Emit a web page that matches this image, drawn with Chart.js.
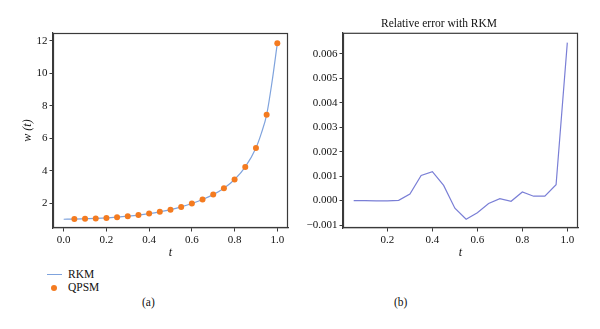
<!DOCTYPE html>
<html>
<head>
<meta charset="utf-8">
<script src="https://cdn.jsdelivr.net/npm/chart.js@4"></script>
<style>
    body { margin: 0; background: #fff; }
    #wrap { position: relative; width: 600px; height: 329px; font-family: "Liberation Serif", serif; color: #111; }
    canvas { position: absolute; top: 0; }
    #chartA { left: 0; }
    #chartB { left: 300px; }
    .leg { position: absolute; font-size: 11.5px; line-height: 12px; }
    .legLine { position: absolute; width: 15px; height: 0; border-top: 1.3px solid #7fa3dd; }
    .legDot { position: absolute; width: 6px; height: 6px; border-radius: 50%; background: #f47b20; }
    .cap { position: absolute; font-size: 11.5px; }
</style>
</head>
<body>
<div id="wrap">
    <canvas id="chartA" width="300" height="260"></canvas>
    <canvas id="chartB" width="300" height="260"></canvas>
    <div class="legLine" style="left:47px; top:274px;"></div>
    <div class="leg" style="left:68px; top:268px;">RKM</div>
    <div class="legDot" style="left:51px; top:285px;"></div>
    <div class="leg" style="left:68px; top:281px;">QPSM</div>
    <div class="cap" style="left:142px; top:296px;">(a)</div>
    <div class="cap" style="left:394px; top:296px;">(b)</div>
</div>
<script>
// Panel (a): w(t) from RKM and QPSM
const rkmT = [0.0, 0.05, 0.1, 0.15, 0.2, 0.25, 0.3, 0.35, 0.4, 0.45, 0.5, 0.55, 0.6, 0.65, 0.7, 0.75, 0.8, 0.85, 0.9, 0.925, 0.95, 0.975, 1.0];
const rkmW = [1.0, 1.01, 1.03, 1.05, 1.08, 1.13, 1.19, 1.26, 1.35, 1.46, 1.59, 1.76, 1.97, 2.22, 2.52, 2.91, 3.45, 4.23, 5.40, 6.30, 7.44, 9.45, 11.85];
const qpsmT = [0.05, 0.1, 0.15, 0.2, 0.25, 0.3, 0.35, 0.4, 0.45, 0.5, 0.55, 0.6, 0.65, 0.7, 0.75, 0.8, 0.85, 0.9, 0.95, 1.0];
const qpsmW = [1.01, 1.03, 1.05, 1.08, 1.13, 1.19, 1.26, 1.35, 1.46, 1.59, 1.76, 1.97, 2.22, 2.52, 2.91, 3.45, 4.23, 5.40, 7.44, 11.85];
const ticksAX = [0.0, 0.2, 0.4, 0.6, 0.8, 1.0];
const ticksAY = [2, 4, 6, 8, 10, 12];

// Panel (b): relative error
const errT = [0.05, 0.1, 0.15, 0.2, 0.25, 0.3, 0.35, 0.4, 0.45, 0.5, 0.55, 0.6, 0.65, 0.7, 0.75, 0.8, 0.85, 0.9, 0.95, 1.0];
const errV = [0.0, 0.0, -0.00001, -0.00001, 0.00001, 0.00027, 0.00103, 0.00118, 0.00062, -0.00031, -0.00076, -0.0005, -0.00012, 0.00008, -0.00003, 0.00035, 0.00018, 0.00018, 0.00065, 0.00646];
const ticksBX = [0.2, 0.4, 0.6, 0.8, 1.0];
const ticksBY = [-0.001, 0.0, 0.001, 0.002, 0.003, 0.004, 0.005, 0.006];

const axisColor = '#3a3a3a';
const textColor = '#111';
const tickFont = { family: '"Liberation Serif", serif', size: 11 };
const titleFont = { family: '"Liberation Serif", serif', size: 12, style: 'italic' };

// draws the full box around the plot area
const frame = {
    id: 'frame',
    afterDraw(chart) {
        const a = chart.chartArea;
        const ctx = chart.ctx;
        ctx.save();
        ctx.strokeStyle = axisColor;
        ctx.lineWidth = 1.2;
        ctx.strokeRect(a.left + 0.5, a.top + 0.5, a.right - a.left - 1, a.bottom - a.top - 1);
        ctx.restore();
    }
};

function toPoints(xs, ys) {
    return xs.map((x, i) => ({ x: x, y: ys[i] }));
}

function axis(min, max, ticks, fmt, extra) {
    return Object.assign({
        type: 'linear',
        min: min,
        max: max,
        grid: { display: true, drawOnChartArea: false, drawTicks: true, tickLength: 3.5, color: axisColor },
        border: { display: true, color: axisColor, width: 1.2 },
        afterBuildTicks: s => { s.ticks = ticks.map(v => ({ value: v })); },
        ticks: {
            color: textColor,
            font: tickFont,
            padding: 2,
            maxRotation: 0,
            autoSkip: false,
            callback: v => fmt(v)
        }
    }, extra);
}

const fmt1 = v => v.toFixed(1);
const fmtInt = v => String(v);
const fmt3 = v => v.toFixed(3).replace('-', '\u2212');

new Chart(document.getElementById('chartA'), {
    type: 'line',
    data: {
        datasets: [{
            label: 'QPSM',
            data: toPoints(qpsmT, qpsmW),
            showLine: false,
            pointRadius: 3,
            pointBackgroundColor: '#f47b20',
            pointBorderWidth: 0,
            order: 0
        }, {
            label: 'RKM',
            data: toPoints(rkmT, rkmW),
            borderColor: '#7fa3dd',
            borderWidth: 1.2,
            pointRadius: 0,
            cubicInterpolationMode: 'monotone',
            order: 1
        }]
    },
    options: {
        responsive: false,
        animation: false,
        layout: { padding: { top: 33, right: 12, left: 0, bottom: 0 } },
        plugins: { legend: { display: false }, tooltip: { enabled: false } },
        scales: {
            x: axis(-0.05, 1.05, ticksAX, fmt1, {
                afterFit: s => { s.height = 32; },
                title: { display: true, text: 't', font: titleFont, color: textColor, padding: 0 }
            }),
            y: axis(0.46, 12.49, ticksAY, fmtInt, {
                afterFit: s => { s.width = 53; },
                title: { display: true, text: 'w (t)', font: titleFont, color: textColor, padding: { top: 21 } }
            })
        }
    },
    plugins: [frame]
});

new Chart(document.getElementById('chartB'), {
    type: 'line',
    data: {
        datasets: [{
            label: 'Relative error',
            data: toPoints(errT, errV),
            borderColor: '#7a7fd6',
            borderWidth: 1.2,
            pointRadius: 0,
            tension: 0
        }]
    },
    options: {
        responsive: false,
        animation: false,
        layout: { padding: { top: 0, right: 22, left: 0, bottom: 0 } },
        plugins: {
            legend: { display: false },
            tooltip: { enabled: false },
            title: {
                display: true,
                text: 'Relative error with RKM',
                color: textColor,
                font: { family: '"Liberation Serif", serif', size: 11.5, weight: 'normal' },
                padding: { top: 17, bottom: 2 }
            }
        },
        scales: {
            x: axis(0.0025, 1.0475, ticksBX, fmt1, {
                afterFit: s => { s.height = 32; },
                title: { display: true, text: 't', font: titleFont, color: textColor, padding: 0 }
            }),
            y: axis(-0.00112, 0.00686, ticksBY, fmt3, {
                afterFit: s => { s.width = 43; }
            })
        }
    },
    plugins: [frame]
});
</script>
</body>
</html>
